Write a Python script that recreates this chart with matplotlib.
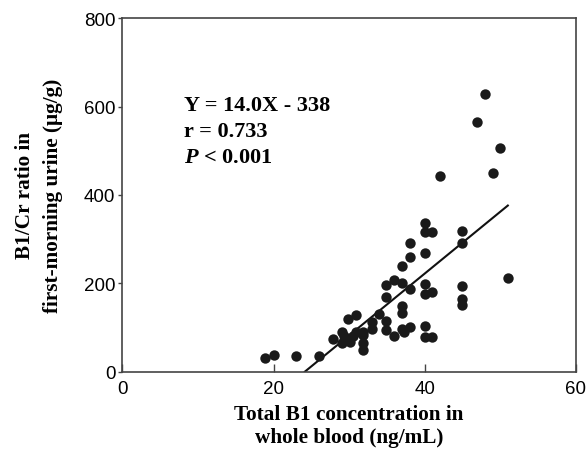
import numpy as np
import matplotlib.pyplot as plt

# data
blood_b1 = [
    18.9, 20.0, 23.0, 26.0,
    27.9, 29.0, 29.0, 29.6, 30.1, 29.9, 30.9, 30.9, 29.3, 30.5,
    31.9, 31.9, 31.9, 31.9, 33.0, 33.0, 34.0,
    34.9, 34.9, 34.9, 34.9, 36.0, 36.0,
    37.0, 37.0, 37.0, 37.0, 37.0, 37.2,
    38.0, 38.0, 38.0, 38.0,
    40.0, 40.0, 40.0, 40.0, 40.0, 40.0, 40.0,
    41.0, 41.0, 41.0, 42.0,
    45.0, 45.0, 45.0, 45.0, 45.0,
    46.9, 48.0, 49.0, 50.0, 51.0,
]
urine_ratio = [
    30, 38, 35, 35,
    75, 89, 66, 74, 68, 120, 129, 89, 80, 80,
    82, 66, 48, 90, 112, 97, 130,
    197, 168, 114, 94, 207, 80,
    239, 200, 148, 133, 97, 89,
    292, 259, 188, 101,
    337, 316, 269, 198, 176, 104, 78,
    316, 180, 78, 444,
    318, 291, 195, 164, 151,
    565, 629, 449, 506, 212,
]

slope = 14.0
intercept = -338
fit_x = np.array([338 / 14.0, 51.0])

plt.rcParams['font.family'] = ['Liberation Sans', 'DejaVu Sans']
plt.rcParams['mathtext.fontset'] = 'custom'
plt.rcParams['mathtext.it'] = 'Liberation Serif:italic:bold'

fig = plt.figure(figsize=(5.87, 4.52), dpi=100)
ax = fig.add_axes([0.2085, 0.1755, 0.7725, 0.782])

ax.scatter(blood_b1, urine_ratio, s=56, color='#1a1a1a', zorder=3, linewidths=0)
ax.plot(fit_x, slope * fit_x + intercept, color='#111111', lw=1.5)

ax.set_xlim(0, 60)
ax.set_ylim(0, 800)
ax.set_xticks([0, 20, 40, 60])
ax.set_yticks([0, 200, 400, 600, 800])
ax.tick_params(axis='x', direction='in', length=6, width=1, pad=6, labelsize=13.5, color='#444444')
ax.tick_params(axis='y', direction='out', length=3, width=1, pad=2, labelsize=13.5, color='#444444')
for sp in ax.spines.values():
    sp.set_color('#444444')
    sp.set_linewidth(1.2)

serif = ['Liberation Serif', 'DejaVu Serif']
ax.set_xlabel('Total B1 concentration in\nwhole blood (ng/mL)', family=serif,
              fontweight='bold', fontsize=15.3, labelpad=5, linespacing=1.2)
ax.set_ylabel('B1/Cr ratio in\nfirst-morning urine (\u03bcg/g)', family=serif,
              fontweight='bold', fontsize=15.3, labelpad=15, linespacing=1.55)

ax.text(8.1, 603, 'Y = 14.0X - 338', family=serif, fontweight='bold', fontsize=16, va='center')
ax.text(8.1, 545, 'r = 0.733', family=serif, fontweight='bold', fontsize=16, va='center')
ax.text(8.1, 487, r'$P$ < 0.001', family=serif, fontweight='bold', fontsize=16, va='center')

fig.savefig('out.png', dpi=100)
